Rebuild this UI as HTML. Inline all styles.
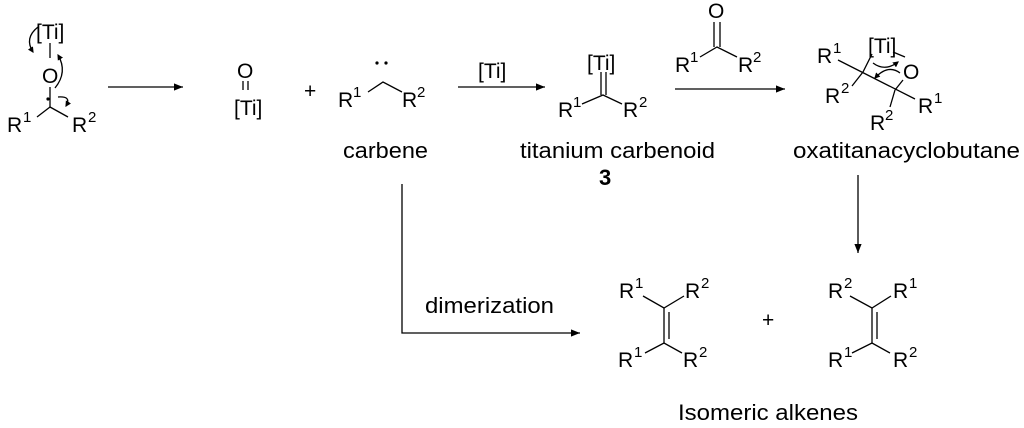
<!DOCTYPE html>
<html><head><meta charset="utf-8"><style>
html,body{margin:0;padding:0;background:#fff}
svg{display:block}
text{font-family:"Liberation Sans",sans-serif;fill:#000}
</style></head><body>
<svg width="1024" height="428" viewBox="0 0 1024 428" xmlns="http://www.w3.org/2000/svg">
<defs><marker id="a" viewBox="0 0 10 10" refX="10" refY="5" markerWidth="14" markerHeight="9" orient="auto" markerUnits="userSpaceOnUse"><path d="M0,1 L10,5 L0,9 Z" fill="#000"/></marker>
<marker id="h" viewBox="0 0 10 10" refX="8" refY="5" markerWidth="6" markerHeight="6" orient="auto" markerUnits="userSpaceOnUse"><path d="M0,0 L10,5 L0,10 Z" fill="#000"/></marker></defs>
<g stroke="#000" stroke-width="1.3" fill="none">
<line x1="50" y1="43" x2="50" y2="58"/>
<line x1="50" y1="87" x2="50" y2="107"/>
<line x1="50" y1="107" x2="37" y2="117"/>
<line x1="50" y1="107" x2="68" y2="117"/>
<path d="M38,27 Q24,38 33,52" marker-end="url(#h)"/>
<path d="M55,88 Q68,72 58,55" marker-end="url(#h)"/>
<path d="M58,97 Q72,96 66,106" marker-end="url(#h)"/>
<line x1="108" y1="87" x2="183" y2="87" marker-end="url(#a)"/>
<line x1="243" y1="81" x2="243" y2="90"/><line x1="248" y1="81" x2="248" y2="90"/>
<polyline points="368,92 383,82 402,92"/>
<line x1="458" y1="87" x2="545" y2="87" marker-end="url(#a)"/>
<line x1="601" y1="72" x2="601" y2="95"/><line x1="606" y1="72" x2="606" y2="95"/>
<polyline points="582,104 603,95 622,104"/>
<line x1="714" y1="22" x2="714" y2="47"/><line x1="720" y1="22" x2="720" y2="47"/>
<polyline points="700,57 717,47 737,57"/>
<line x1="675" y1="89" x2="785" y2="89" marker-end="url(#a)"/>
<line x1="838" y1="60" x2="915" y2="99"/>
<line x1="863" y1="72" x2="872" y2="54"/>
<line x1="863" y1="72" x2="852" y2="86"/>
<line x1="895" y1="90" x2="903" y2="80"/>
<line x1="895" y1="90" x2="890" y2="107"/>
<line x1="893" y1="52" x2="905" y2="57"/>
<path d="M873,63 Q885,72 898,62" marker-end="url(#h)"/>
<path d="M900,73 Q888,64 875,78" marker-end="url(#h)"/>
<line x1="858" y1="175" x2="858" y2="253" marker-end="url(#a)"/>
<polyline points="402,184 402,333 580,333" marker-end="url(#a)"/>
<polyline points="643,296 664,308 684,296"/>
<polyline points="645,353 664,343 682,353"/>
<line x1="664" y1="308" x2="664" y2="343"/><line x1="669" y1="312" x2="669" y2="339"/>
<polyline points="850,296 872,308 891,296"/>
<polyline points="852,353 872,343 890,353"/>
<line x1="872" y1="308" x2="872" y2="343"/><line x1="877" y1="312" x2="877" y2="339"/>
</g>
<circle cx="48" cy="99" r="1.6" fill="#000"/>
<circle cx="377" cy="63" r="1.6" fill="#000"/><circle cx="386" cy="63" r="1.6" fill="#000"/>
<g font-size="21">
<text x="36" y="39">[Ti]</text>
<text x="42" y="83">O</text>
<text x="7" y="132">R</text>
<text x="72" y="132">R</text>
<text x="237" y="78">O</text>
<text x="234" y="115">[Ti]</text>
<text x="304" y="98">+</text>
<text x="338" y="107">R</text>
<text x="402" y="107">R</text>
<text x="478" y="78">[Ti]</text>
<text x="587" y="70">[Ti]</text>
<text x="558" y="117">R</text>
<text x="623" y="117">R</text>
<text x="708" y="18">O</text>
<text x="675" y="72">R</text>
<text x="738" y="72">R</text>
<text x="868" y="53">[Ti]</text>
<text x="903" y="79">O</text>
<text x="817" y="63">R</text>
<text x="825" y="103">R</text>
<text x="918" y="113">R</text>
<text x="870" y="130">R</text>
<text x="619" y="298">R</text>
<text x="685" y="298">R</text>
<text x="618" y="367">R</text>
<text x="683" y="367">R</text>
<text x="762" y="327">+</text>
<text x="828" y="298">R</text>
<text x="893" y="298">R</text>
<text x="828" y="367">R</text>
<text x="893" y="367">R</text>
</g>
<g font-size="15">
<text x="23" y="122">1</text><text x="88" y="122">2</text>
<text x="353" y="97">1</text><text x="417" y="97">2</text>
<text x="573" y="107">1</text><text x="639" y="107">2</text>
<text x="690" y="62">1</text><text x="753" y="62">2</text>
<text x="833" y="53">1</text><text x="841" y="93">2</text>
<text x="934" y="103">1</text><text x="885" y="120">2</text>
<text x="635" y="288">1</text><text x="701" y="288">2</text>
<text x="634" y="357">1</text><text x="699" y="357">2</text>
<text x="844" y="288">2</text><text x="909" y="288">1</text>
<text x="844" y="357">1</text><text x="909" y="357">2</text>
</g>
<g font-size="22">
<text x="343" y="158" textLength="85" lengthAdjust="spacingAndGlyphs">carbene</text>
<text x="520" y="158" textLength="195" lengthAdjust="spacingAndGlyphs">titanium carbenoid</text>
<text x="599" y="185" font-weight="bold">3</text>
<text x="793" y="158" textLength="227" lengthAdjust="spacingAndGlyphs">oxatitanacyclobutane</text>
<text x="425" y="313" textLength="129" lengthAdjust="spacingAndGlyphs">dimerization</text>
<text x="678" y="420" textLength="180" lengthAdjust="spacingAndGlyphs">Isomeric alkenes</text>
</g>
</svg>
</body></html>
